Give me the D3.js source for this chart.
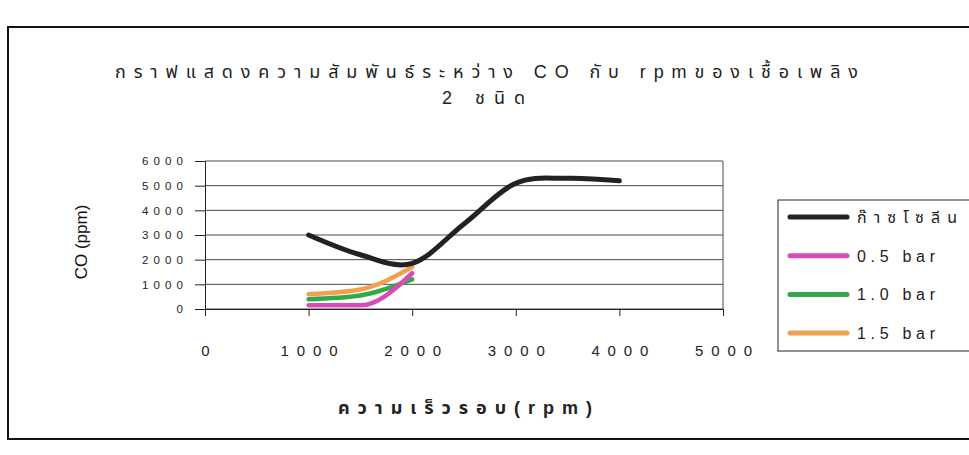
<!DOCTYPE html>
<html><head><meta charset="utf-8">
<script src="https://cdn.jsdelivr.net/npm/d3@7"></script>
<style>body{margin:0;background:#fff}svg{display:block}</style>
</head><body>
<svg id="c" width="969" height="455"></svg>
<script>
const titleLine1 = "กราฟแสดงความสัมพันธ์ระหว่าง CO กับ rpmของเชื้อเพลิง";
const titleLine2 = "2 ชนิด";
const xTitle = "ความเร็วรอบ(rpm)";
const yTitle = "CO (ppm)";
const rpmGasoline = [1000, 1500, 2000, 2500, 3000, 3500, 4000];
const coGasoline = [3000, 2200, 1850, 3450, 5100, 5300, 5200];
const rpmLPG = [1000, 1500, 2000];
const co05bar = [150, 150, 1450];
const co10bar = [400, 550, 1200];
const co15bar = [600, 790, 1700];
const seriesNames = ["ก๊าซโซลีน", "0.5 bar", "1.0 bar", "1.5 bar"];
const seriesColors = ["#222222", "#d94cb6", "#33a847", "#f2a04e"];
const xTicks = [0, 1000, 2000, 3000, 4000, 5000];
const yTicks = [0, 1000, 2000, 3000, 4000, 5000, 6000];

const FONT = "'Liberation Sans', Arial, 'Noto Sans Thai', 'Noto Sans', sans-serif";
const svg = d3.select("#c").style("font-family", FONT);

// fit letter-spacing so text spans target visual width
function spaceTo(t, target) {
  t.style("letter-spacing", "0px");
  const w0 = t.node().getComputedTextLength();
  t.style("letter-spacing", "10px");
  const w1 = t.node().getComputedTextLength();
  const n = (w1 - w0) / 10;
  const s = n > 1 ? (target - w0) / (n - 1) : 0;
  t.style("letter-spacing", s + "px");
  return s;
}

// outer chart border
svg.append("rect").attr("x", 8).attr("y", 27).attr("width", 1000).attr("height", 412)
  .attr("fill", "none").attr("stroke", "#111").attr("stroke-width", 2);

const x = d3.scaleLinear().domain([0, 5000]).range([205, 723]);
const y = d3.scaleLinear().domain([0, 6000]).range([309, 161]);

// gridlines
svg.append("g").selectAll("line").data(yTicks).join("line")
  .attr("x1", x(0)).attr("x2", x(5000))
  .attr("y1", d => y(d)).attr("y2", d => y(d))
  .attr("stroke", "#4a4a4a").attr("stroke-width", 1);
svg.append("line").attr("x1", x(5000)).attr("x2", x(5000)).attr("y1", y(6000)).attr("y2", y(0))
  .attr("stroke", "#4a4a4a");

// y axis
const yAxis = svg.append("g").attr("transform", `translate(${x(0)},0)`)
  .call(d3.axisLeft(y).tickValues(yTicks).tickSize(10).tickPadding(12).tickFormat(d3.format("d")));
yAxis.select(".domain").attr("stroke", "#222");
yAxis.selectAll(".tick line").attr("stroke", "#222");
yAxis.selectAll("text").attr("font-size", 11.5).attr("fill", "#222").attr("font-family", FONT)
  .each(function (d) {
    const t = d3.select(this);
    const s = d >= 1000 ? spaceTo(t, 41) : 0;
    t.attr("dx", s);
  });

// x axis
const xAxis = svg.append("g").attr("transform", `translate(0,${y(0)})`)
  .call(d3.axisBottom(x).tickValues(xTicks).tickSize(7).tickPadding(29).tickFormat(d3.format("d")));
xAxis.select(".domain").attr("stroke", "#222");
xAxis.selectAll(".tick line").attr("stroke", "#222");
xAxis.selectAll("text").attr("font-size", 15).attr("fill", "#222").attr("font-family", FONT)
  .each(function (d) {
    const t = d3.select(this);
    const s = d >= 1000 ? spaceTo(t, 57) : 0;
    t.attr("dx", s / 2);
  });

// lines
const smooth = d3.line().x(d => x(d[0])).y(d => y(d[1])).curve(d3.curveCatmullRom.alpha(0));
const mono = d3.line().x(d => x(d[0])).y(d => y(d[1])).curve(d3.curveMonotoneX);
const series = [
  { name: seriesNames[0], color: seriesColors[0], pts: d3.zip(rpmGasoline, coGasoline), gen: smooth },
  { name: seriesNames[1], color: seriesColors[1], pts: d3.zip(rpmLPG, co05bar), gen: mono },
  { name: seriesNames[2], color: seriesColors[2], pts: d3.zip(rpmLPG, co10bar), gen: mono },
  { name: seriesNames[3], color: seriesColors[3], pts: d3.zip(rpmLPG, co15bar), gen: mono }
];
svg.append("g").selectAll("path").data(series.slice().reverse()).join("path")
  .attr("d", d => d.gen(d.pts)).attr("fill", "none")
  .attr("stroke", d => d.color).attr("stroke-width", d => d.name === seriesNames[0] ? 5 : 4.5)
  .attr("stroke-linecap", "round").attr("stroke-linejoin", "round");

// titles
const t1 = svg.append("text").attr("x", 115).attr("y", 78).attr("font-size", 18).attr("fill", "#222").text(titleLine1);
spaceTo(t1, 743);
const t2 = svg.append("text").attr("x", 442).attr("y", 104).attr("font-size", 18).attr("fill", "#222").text(titleLine2);
spaceTo(t2, 83);
const xt = svg.append("text").attr("x", 338).attr("y", 414).attr("font-size", 18).attr("font-weight", "bold").attr("fill", "#222").text(xTitle);
spaceTo(xt, 254);
svg.append("text").attr("transform", "translate(87,242) rotate(-90)").attr("text-anchor", "middle")
  .attr("font-size", 17).attr("fill", "#111").text(yTitle);

// legend
svg.append("rect").attr("x", 778).attr("y", 200).attr("width", 300).attr("height", 151)
  .attr("fill", "#fff").attr("stroke", "#222").attr("stroke-width", 1);
const leg = svg.append("g").selectAll("g").data(series).join("g")
  .attr("transform", (d, i) => `translate(0,${217 + i * 38.7})`);
leg.append("line").attr("x1", 790).attr("x2", 847).attr("y1", 0).attr("y2", 0)
  .attr("stroke", d => d.color).attr("stroke-width", 5).attr("stroke-linecap", "round");
leg.append("text").attr("x", 857).attr("y", 6).attr("font-size", 16).attr("fill", "#222")
  .text(d => d.name).each(function (d, i) {
    spaceTo(d3.select(this), i === 0 ? 100 : 78);
  });
</script>
</body></html>
